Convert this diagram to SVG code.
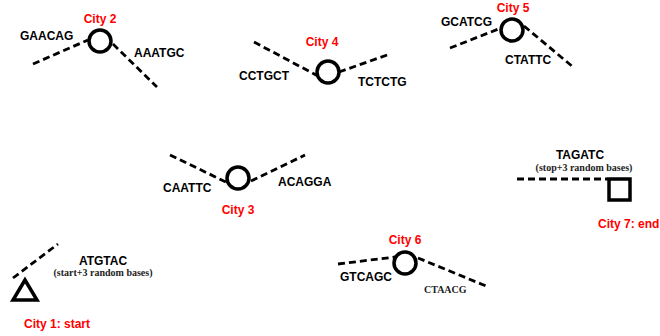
<svg xmlns="http://www.w3.org/2000/svg" width="660" height="336" viewBox="0 0 660 336">
<style>
.d{stroke:#000;stroke-width:2.8;stroke-dasharray:7,4;fill:none}
.n{stroke:#000;stroke-width:3.5;fill:none}
.s{font-family:"Liberation Sans",Arial,sans-serif;font-weight:bold;font-size:12px;fill:#000}
.r{font-family:"Liberation Sans",Arial,sans-serif;font-weight:bold;font-size:12px;fill:#f00}
.t{font-family:"Liberation Serif","Times New Roman",serif;font-weight:bold;font-size:10px;fill:#222}
</style>
<rect width="660" height="336" fill="#fff"/>
<g id="connectors">
<line class="d" x1="33" y1="64" x2="88" y2="40"/>
<line class="d" x1="113" y1="44" x2="157" y2="87"/>
<line class="d" x1="254" y1="42" x2="318" y2="76"/>
<line class="d" x1="339" y1="72" x2="390" y2="54"/>
<line class="d" x1="450" y1="48" x2="501" y2="28"/>
<line class="d" x1="524" y1="26" x2="573" y2="67"/>
<line class="d" x1="170" y1="155" x2="228" y2="183"/>
<line class="d" x1="251" y1="181" x2="305" y2="155"/>
<line class="d" x1="517" y1="179" x2="608" y2="179"/>
<line class="d" x1="13" y1="278" x2="58" y2="244"/>
<line class="d" x1="338" y1="264" x2="395" y2="257"/>
<line class="d" x1="418" y1="258" x2="486" y2="286"/>
</g>
<g id="city1">
<polygon class="n" points="25,280 13,300 37,300"/>
<text class="s" x="103" y="265" text-anchor="middle">ATGTAC</text>
<text class="t" x="103" y="276" text-anchor="middle">(start+3 random bases)</text>
<text class="r" x="24" y="328">City 1: start</text>
</g>
<g id="city2">
<circle class="n" cx="100" cy="41" r="11"/>
<text class="r" x="100" y="23" text-anchor="middle">City 2</text>
<text class="s" x="20" y="40">GAACAG</text>
<text class="s" x="134" y="57">AAATGC</text>
</g>
<g id="city3">
<circle class="n" cx="238" cy="178" r="11"/>
<text class="s" x="163" y="192">CAATTC</text>
<text class="s" x="278" y="186">ACAGGA</text>
<text class="r" x="238" y="214" text-anchor="middle">City 3</text>
</g>
<g id="city4">
<circle class="n" cx="328" cy="72" r="11"/>
<text class="r" x="322" y="46" text-anchor="middle">City 4</text>
<text class="s" x="239" y="80">CCTGCT</text>
<text class="s" x="358" y="86">TCTCTG</text>
</g>
<g id="city5">
<circle class="n" cx="512" cy="30" r="11"/>
<text class="r" x="513" y="12" text-anchor="middle">City 5</text>
<text class="s" x="441" y="26">GCATCG</text>
<text class="s" x="505" y="64">CTATTC</text>
</g>
<g id="city6">
<circle class="n" cx="405" cy="263" r="11"/>
<text class="r" x="405" y="244" text-anchor="middle">City 6</text>
<text class="s" x="340" y="281">GTCAGC</text>
<text class="t" x="424" y="293">CTAACG</text>
</g>
<g id="city7">
<rect class="n" x="609" y="179" width="21" height="21"/>
<text class="s" x="580" y="159" text-anchor="middle">TAGATC</text>
<text class="t" x="584" y="171" text-anchor="middle">(stop+3 random bases)</text>
<text class="r" x="598" y="228">City 7: end</text>
</g>
</svg>
